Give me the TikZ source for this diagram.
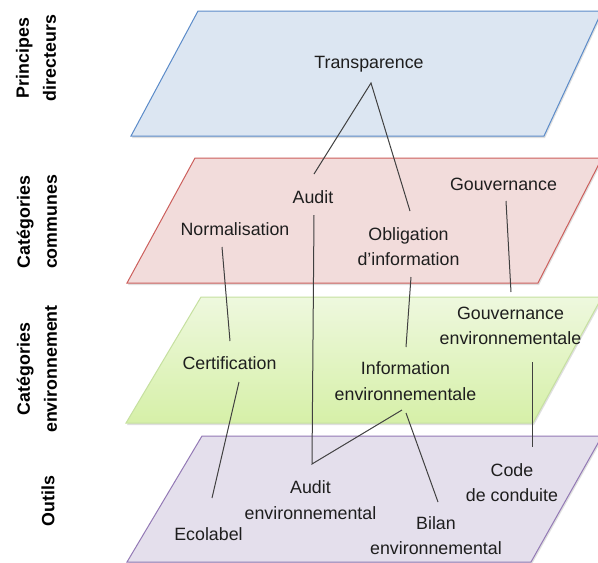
\documentclass[tikz,border=0pt]{standalone}
\usepackage{fontspec}
\setmainfont{Liberation Sans}
\usetikzlibrary{shadows}
\definecolor{bluefill}{HTML}{DCE6F2}
\definecolor{blueedge}{HTML}{5B8BC9}
\definecolor{redfill}{HTML}{F2DCDB}
\definecolor{rededge}{HTML}{CC5F5C}
\definecolor{greentop}{HTML}{EEF8DE}
\definecolor{greenbot}{HTML}{D6F0A8}
\definecolor{greenedge}{HTML}{C6E0A0}
\definecolor{purplefill}{HTML}{E4DFEC}
\definecolor{purpleedge}{HTML}{9379B5}
\definecolor{linkgray}{HTML}{404040}
\definecolor{textcol}{HTML}{1E1E1E}
\begin{document}
\begin{tikzpicture}[x=1pt,y=-1pt,
  plane/.style={line width=1pt, drop shadow={opacity=0.25, shadow xshift=1pt, shadow yshift=-2pt}},
  lbl/.style={font=\fontsize{17.8}{25.5}\selectfont, text=textcol, inner sep=0pt, align=center},
  side/.style={font=\bfseries\fontsize{17.8}{27}\selectfont, text=black, rotate=90, inner sep=0pt, align=center},
  link/.style={draw=linkgray, line width=1pt}]
\useasboundingbox (0,0) rectangle (598,563);
\fill[white] (0,0) rectangle (598,563);
% planes
\path[plane, draw=blueedge, fill=bluefill] (131,136) -- (198,11) -- (602,11) -- (544,136) -- cycle;
\path[plane, draw=rededge, fill=redfill] (127,283) -- (195,158) -- (602,158) -- (538,283) -- cycle;
\path[plane, draw=greenedge, top color=greentop, bottom color=greenbot] (126,423) -- (201,297) -- (602,297) -- (533,423) -- cycle;
\path[plane, draw=purpleedge, fill=purplefill] (127,562) -- (202,436) -- (602,436) -- (531,562) -- cycle;
% side labels
\node[side] (principes) at (36,58) {Principes\\directeurs};
\node[side] (communes) at (37,222) {Catégories\\communes};
\node[side] (environ) at (37,369) {Catégories\\environnement};
\node[side] (outils) at (48,501) {Outils};
% nodes
\node[lbl, anchor=base] (transp) at (369,68) {Transparence};
\node[lbl, anchor=base] (audit) at (313,203) {Audit};
\node[lbl, anchor=base] (gouv) at (503.5,190) {Gouvernance};
\node[lbl, anchor=base] (norm) at (235,235) {Normalisation};
\node[lbl] (oblig) at (408.5,246.5) {Obligation\\d’information};
\node[lbl] (gouvenv) at (510.5,326) {Gouvernance\\environnementale};
\node[lbl, anchor=base] (certif) at (229.5,369) {Certification};
\node[lbl] (infoenv) at (405.5,381) {Information\\environnementale};
\node[lbl] (code) at (512,482.5) {Code\\de conduite};
\node[lbl] (auditenv) at (310.5,500) {Audit\\environnemental};
\node[lbl] (bilan) at (436,535.6) {Bilan\\environnemental};
\node[lbl, anchor=base] (ecolabel) at (208.5,540) {Ecolabel};
% connector end points
\coordinate (transp-b) at (371,83);
\coordinate (audit-t) at (314,174);
\coordinate (oblig-t) at (410,211);
\coordinate (audit-b) at (314,215);
\coordinate (auditenv-t) at (312,464);
\coordinate (infoenv-b1) at (402,410);
\coordinate (infoenv-b2) at (406,413);
\coordinate (bilan-t) at (438,502);
\coordinate (oblig-b) at (411,277);
\coordinate (infoenv-t) at (406,347);
\coordinate (gouv-b) at (506,201);
\coordinate (gouvenv-t) at (511,292);
\coordinate (gouvenv-b) at (532,362);
\coordinate (code-t) at (532,447);
\coordinate (norm-b) at (222,247);
\coordinate (certif-t) at (230,341);
\coordinate (certif-b) at (239,382);
\coordinate (ecolabel-t) at (212,498);
% connectors
\draw[link] (audit-t) -- (transp-b) -- (oblig-t);
\draw[link] (audit-b) -- (auditenv-t) -- (infoenv-b1);
\draw[link] (infoenv-b2) -- (bilan-t);
\draw[link] (oblig-b) -- (infoenv-t);
\draw[link] (gouv-b) -- (gouvenv-t);
\draw[link] (gouvenv-b) -- (code-t);
\draw[link] (norm-b) -- (certif-t);
\draw[link] (certif-b) -- (ecolabel-t);
\end{tikzpicture}
\end{document}
